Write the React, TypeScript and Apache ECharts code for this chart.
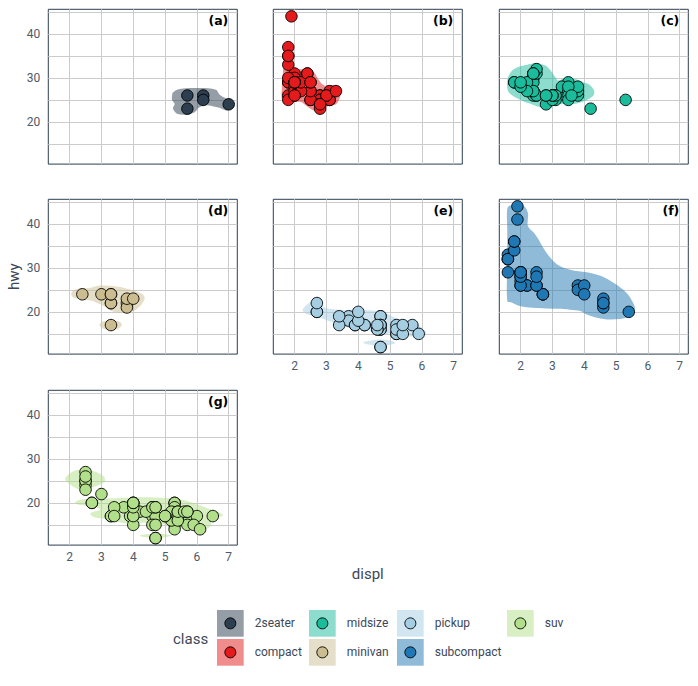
import React, { useEffect, useRef } from 'react';
import * as echarts from 'echarts';

const classes = ['2seater', 'compact', 'midsize', 'minivan', 'pickup', 'subcompact', 'suv'];
const panelLabels = ['(a)', '(b)', '(c)', '(d)', '(e)', '(f)', '(g)'];
const pointColors = ['#2c3e50', '#e41a1c', '#1abc9c', '#ccbd91', '#a6cee3', '#1f78b4', '#b2df8a'];
const xTicks = [2, 3, 4, 5, 6, 7];
const yTickLabels = [20, 30, 40];
const xRange = [1.33, 7.27];
const yRange = [10.4, 45.6];

// [displ, hwy]
const pts2seater = [[5.7, 26], [5.7, 23], [6.2, 26], [6.2, 25], [7.0, 24]];
const ptsCompact = [
  [1.8, 29], [1.8, 29], [2.0, 31], [2.0, 30], [2.8, 26], [2.8, 26], [3.1, 27],
  [1.8, 26], [1.8, 25], [2.0, 28], [2.0, 27], [2.8, 25], [2.8, 25], [3.1, 25], [3.1, 25],
  [2.5, 25], [2.5, 27], [2.5, 25], [2.5, 27],
  [2.2, 27], [2.2, 29], [2.4, 31], [2.4, 31], [3.0, 26], [3.0, 26], [3.3, 27],
  [1.8, 30], [1.8, 33], [1.8, 35], [1.8, 37], [1.8, 35],
  [2.0, 29], [2.0, 26], [2.0, 29], [2.0, 29], [2.8, 24],
  [1.9, 44], [2.0, 29], [2.0, 26], [2.0, 29], [2.0, 29], [2.5, 29], [2.5, 29], [2.8, 23], [2.8, 24],
];
const ptsMidsize = [
  [2.8, 24], [3.1, 25], [4.2, 23],
  [2.4, 27], [2.4, 30], [3.1, 26], [3.5, 29], [3.6, 26],
  [2.4, 26], [2.4, 27], [2.4, 30], [2.4, 31], [2.5, 26], [2.5, 26], [3.3, 28],
  [2.4, 29], [2.4, 27], [2.5, 31], [2.5, 32], [3.5, 27], [3.5, 26],
  [3.0, 26], [3.0, 25], [3.5, 25],
  [3.1, 26], [3.8, 26], [3.8, 27], [3.8, 28], [5.3, 25],
  [2.2, 29], [2.2, 27], [2.4, 31], [2.4, 31], [3.0, 26], [3.0, 26], [3.5, 28],
  [1.8, 29], [1.8, 29], [2.0, 28], [2.0, 29], [2.8, 26], [2.8, 26], [3.6, 26],
];
const ptsMinivan = [
  [2.4, 24], [3.0, 24], [3.3, 22], [3.3, 22], [3.3, 24], [3.3, 24], [3.3, 17],
  [3.8, 22], [3.8, 21], [3.8, 23], [4.0, 23],
];
const ptsPickup = [
  [3.7, 19], [3.7, 18], [3.9, 17], [3.9, 17], [4.7, 19], [4.7, 19], [4.7, 12], [5.2, 17], [5.2, 15],
  [4.7, 16], [4.7, 12], [4.7, 17], [4.7, 17], [4.7, 16], [5.2, 15], [5.2, 16], [5.7, 17], [5.9, 15], [4.7, 17],
  [4.2, 17], [4.2, 17], [4.6, 16], [4.6, 16], [4.6, 17], [5.4, 15], [5.4, 17],
  [2.7, 20], [2.7, 20], [2.7, 22], [3.4, 17], [3.4, 19], [4.0, 18], [4.0, 20],
];
const ptsSubcompact = [
  [3.8, 26], [3.8, 25], [4.0, 26], [4.0, 24], [4.6, 21], [4.6, 22], [4.6, 23], [4.6, 22], [5.4, 20],
  [1.6, 33], [1.6, 32], [1.6, 32], [1.6, 29], [1.6, 32], [1.8, 34], [1.8, 36], [1.8, 36], [2.0, 29],
  [2.0, 26], [2.0, 29], [2.0, 28], [2.0, 27], [2.7, 24], [2.7, 24], [2.7, 24],
  [2.2, 26], [2.2, 26], [2.5, 26], [2.5, 26],
  [1.9, 44], [1.9, 41], [2.0, 29], [2.0, 26], [2.0, 28], [2.0, 29], [2.5, 29], [2.5, 28],
];
const ptsSuv = [
  [5.3, 20], [5.3, 15], [5.3, 20], [5.7, 17], [6.0, 17],
  [5.3, 19], [5.3, 14], [5.7, 15], [6.5, 17],
  [3.9, 17], [4.7, 17], [4.7, 12], [4.7, 17], [5.2, 16], [5.2, 18], [5.9, 15],
  [4.6, 17], [5.4, 17], [5.4, 18],
  [4.0, 17], [4.0, 19], [4.0, 19], [4.0, 19], [4.6, 19], [5.0, 17],
  [3.0, 22], [3.7, 19], [4.0, 20], [4.7, 17], [4.7, 12], [4.7, 19], [5.7, 18], [6.1, 14],
  [4.0, 15], [4.2, 18], [4.4, 18], [4.6, 15],
  [5.4, 17], [5.4, 16], [5.4, 18],
  [4.0, 17], [4.0, 19], [4.6, 19], [5.0, 17],
  [3.3, 17], [3.3, 17], [4.0, 20], [5.6, 18],
  [2.5, 25], [2.5, 24], [2.5, 27], [2.5, 25], [2.5, 26], [2.5, 23],
  [2.7, 20], [2.7, 20], [3.4, 19], [3.4, 17], [4.0, 20], [4.7, 19],
  [4.7, 15], [5.7, 18],
];

// density-region outlines, [displ, hwy]
const hull2seater = [
  [[5.25, 26.7], [5.46, 27.5], [6.08, 27.7], [6.6, 27.3], [6.71, 26.2], [6.92, 25.3], [7.12, 24.8], [7.17, 23.9], [7.07, 23.0], [6.92, 22.6], [6.71, 23.2], [6.29, 23.8], [6.08, 23.3], [5.93, 22.2], [5.72, 21.7], [5.4, 21.8], [5.25, 23.0], [5.3, 24.1], [5.22, 25.0], [5.22, 26.0]],
];
const hullCompact = [
  [[1.83, 37.7], [1.95, 35.0], [2.0, 32.2], [2.35, 32.0], [2.6, 31.3], [2.77, 29.4], [2.93, 28.3], [3.3, 28.3], [3.42, 27.5], [3.44, 26.0], [3.3, 24.0], [3.08, 23.7], [2.82, 22.6], [2.6, 22.6], [2.35, 23.7], [2.2, 24.5], [1.94, 24.5], [1.63, 24.8], [1.6, 27.9], [1.63, 30.9], [1.65, 34.7], [1.68, 37.0]],
];
const hullMidsize = [
  [[1.58, 29.4], [1.6, 27.1], [1.74, 26.0], [2.05, 24.8], [2.31, 24.1], [2.68, 23.2], [2.99, 23.6], [3.15, 24.1], [3.46, 24.0], [3.72, 24.1], [4.03, 24.8], [4.29, 26.0], [4.31, 27.1], [4.19, 28.3], [3.98, 29.0], [3.67, 29.8], [3.35, 29.8], [3.17, 29.4], [3.09, 30.2], [2.94, 31.7], [2.78, 32.8], [2.52, 33.3], [2.21, 33.0], [1.9, 32.4], [1.69, 31.3]],
];
const hullMinivan = [
  [[2.05, 24.2], [2.18, 25.1], [2.65, 25.5], [2.96, 26.0], [3.48, 25.8], [3.9, 25.1], [4.26, 24.2], [4.36, 23.2], [4.26, 21.7], [4.0, 20.2], [3.58, 19.8], [3.32, 20.2], [3.17, 20.9], [2.75, 22.4], [2.44, 22.8], [2.13, 23.2]],
  [[2.94, 17.1], [3.05, 17.8], [3.3, 18.1], [3.55, 17.8], [3.64, 17.1], [3.55, 16.3], [3.3, 15.8], [3.05, 16.2]],
];
const hullPickup = [
  [[2.25, 20.4], [2.41, 21.8], [2.65, 22.6], [2.85, 21.5], [3.0, 20.8], [3.4, 20.5], [3.92, 20.4], [4.44, 20.3], [4.85, 19.8], [5.17, 18.6], [5.69, 17.9], [5.95, 16.7], [6.14, 15.1], [5.9, 14.5], [5.48, 14.5], [5.01, 15.1], [4.75, 14.8], [4.23, 16.0], [3.71, 16.4], [3.08, 17.9], [2.67, 19.0], [2.35, 19.6]],
  [[4.15, 13.0], [4.4, 13.5], [4.7, 13.7], [5.0, 13.5], [5.17, 12.9], [4.9, 12.4], [4.65, 12.2], [4.4, 12.5]],
];
const hullSubcompact = [
  [[1.58, 43.4], [1.67, 44.2], [2.1, 44.0], [2.23, 42.5], [2.23, 41.4], [2.23, 39.5], [2.42, 38.0], [2.57, 36.4], [2.68, 34.9], [2.89, 32.7], [3.15, 30.8], [3.56, 29.6], [4.08, 29.0], [4.55, 28.1], [4.92, 26.6], [5.33, 24.3], [5.54, 22.0], [5.59, 20.5], [5.44, 19.0], [5.13, 18.4], [4.6, 18.4], [4.08, 19.4], [3.88, 20.2], [3.56, 20.5], [3.15, 20.7], [2.52, 20.9], [2.0, 21.3], [1.69, 22.2], [1.58, 22.4], [1.58, 31.1], [1.58, 38.7]],
];
const hullSuv = [
  [[1.86, 25.3], [2.02, 26.8], [2.33, 27.6], [2.75, 27.2], [3.06, 26.1], [3.11, 24.9], [2.96, 24.2], [2.65, 23.4], [2.33, 23.0], [2.02, 24.2]],
  [[2.18, 20.2], [2.44, 20.8], [2.96, 20.9], [3.58, 21.1], [4.31, 21.3], [5.04, 21.1], [5.46, 20.8], [5.88, 20.0], [6.29, 18.9], [6.76, 17.6], [6.81, 17.0], [6.5, 16.6], [6.4, 14.5], [6.2, 14.0], [5.88, 14.1], [5.35, 14.7], [4.73, 15.3], [4.21, 15.5], [3.79, 15.3], [3.27, 16.2], [2.75, 16.8], [2.65, 17.6], [2.96, 18.5], [2.75, 19.2], [2.28, 19.6]],
  [[4.2, 12.5], [4.5, 12.9], [4.8, 13.0], [5.2, 12.6], [4.9, 12.1], [4.5, 12.1]],
];

const pointsByClass = [pts2seater, ptsCompact, ptsMidsize, ptsMinivan, ptsPickup, ptsSubcompact, ptsSuv];
const hullsByClass = [hull2seater, hullCompact, hullMidsize, hullMinivan, hullPickup, hullSubcompact, hullSuv];

const FONT = 'Roboto, "Noto Sans", sans-serif';
const TICK_COLOR = '#4d5a6a';
const TITLE_COLOR = '#3c4858';

function rgba(hex: string, a: number) {
  const n = parseInt(hex.slice(1), 16);
  return `rgba(${(n >> 16) & 255},${(n >> 8) & 255},${n & 255},${a})`;
}

const LEFTS = [48.3, 273.3, 499.3];
const TOPS = [9.3, 199.3, 390.3];
const PW = 189;
const PH = 154.8;

export default function App() {
  const ref = useRef<HTMLDivElement>(null);
  useEffect(() => {
    if (!ref.current) return;
    document.body.style.margin = '0';
    const chart = echarts.init(ref.current, undefined, { renderer: 'svg' });
    const grids: any[] = [];
    const xAxes: any[] = [];
    const yAxes: any[] = [];
    const series: any[] = [];
    const graphics: any[] = [];

    classes.forEach((cls, i) => {
      const col = i % 3;
      const row = Math.floor(i / 3);
      const left = LEFTS[col];
      const top = TOPS[row];
      grids.push({ left, top, width: PW, height: PH, show: true, borderColor: '#2c3e50', borderWidth: 1, backgroundColor: 'transparent', containLabel: false });
      const showX = i >= 4;
      const showY = col === 0;
      xAxes.push({
        gridIndex: i, type: 'value', min: xRange[0], max: xRange[1], minInterval: 1, maxInterval: 1,
        axisLine: { show: false }, axisTick: { show: false },
        splitLine: { show: true, showMinLine: false, showMaxLine: false, lineStyle: { color: '#cbcbcb', width: 1 } },
        axisLabel: {
          show: showX, color: TICK_COLOR, fontSize: 12, fontFamily: FONT, margin: 6,
          formatter: (v: number) => {
            const r = Math.round(v);
            return Math.abs(v - r) < 1e-6 && xTicks.includes(r) ? String(r) : '';
          },
        },
      });
      yAxes.push({
        gridIndex: i, type: 'value', min: yRange[0], max: yRange[1], minInterval: 5, maxInterval: 5,
        axisLine: { show: false }, axisTick: { show: false },
        splitLine: { show: true, showMinLine: false, showMaxLine: false, lineStyle: { color: '#cbcbcb', width: 1 } },
        axisLabel: {
          show: showY, color: TICK_COLOR, fontSize: 12, fontFamily: FONT, margin: 8,
          formatter: (v: number) => {
            const r = Math.round(v);
            return Math.abs(v - r) < 1e-6 && yTickLabels.includes(r) ? String(r) : '';
          },
        },
      });
      const hulls = hullsByClass[i];
      const fill = rgba(pointColors[i], 0.5);
      series.push({
        type: 'custom', xAxisIndex: i, yAxisIndex: i, clip: true, silent: true, z: 1,
        data: hulls.map((p, k) => [p[0][0], p[0][1], k]),
        renderItem: (_params: any, api: any) => {
          const poly = hulls[api.value(2)];
          const points = poly.map((p) => api.coord(p));
          return { type: 'polygon', shape: { points, smooth: 0.35 }, style: { fill } };
        },
      });
      series.push({
        type: 'scatter', xAxisIndex: i, yAxisIndex: i, silent: true, z: 3,
        symbol: 'circle', symbolSize: 11.5,
        itemStyle: { color: pointColors[i], borderColor: '#000', borderWidth: 0.9, opacity: 1 },
        data: pointsByClass[i],
      });
      graphics.push({
        type: 'text', x: left + PW - 9, y: top + 11,
        style: { text: panelLabels[i], fontSize: 12.5, fontWeight: 'bold', fontFamily: '"DejaVu Sans", sans-serif', fill: '#000', align: 'right', verticalAlign: 'middle' },
      });
    });

    graphics.push({
      type: 'text', x: 14, y: TOPS[1] + PH / 2, rotation: Math.PI / 2,
      style: { text: 'hwy', fontSize: 15, fontFamily: FONT, fill: TITLE_COLOR, align: 'center', verticalAlign: 'middle' },
    });
    graphics.push({
      type: 'text', x: LEFTS[1] + PW / 2, y: 574,
      style: { text: 'displ', fontSize: 15, fontFamily: FONT, fill: TITLE_COLOR, align: 'center', verticalAlign: 'middle' },
    });
    graphics.push({
      type: 'text', x: 173, y: 639,
      style: { text: 'class', fontSize: 15, fontFamily: FONT, fill: TITLE_COLOR, align: 'left', verticalAlign: 'middle' },
    });
    const keyX = [217, 309, 397, 507];
    const keyY = [610, 639];
    const KS = 26.7;
    classes.forEach((cls, i) => {
      const c = Math.floor(i / 2);
      const r = i % 2;
      const x = keyX[c];
      const y = keyY[r];
      graphics.push({ type: 'rect', shape: { x, y, width: KS, height: KS }, style: { fill: rgba(pointColors[i], 0.5) } });
      graphics.push({ type: 'circle', shape: { cx: x + KS / 2, cy: y + KS / 2, r: 5.5 }, style: { fill: pointColors[i], stroke: '#000', lineWidth: 0.9 } });
      graphics.push({
        type: 'text', x: x + KS + 11, y: y + KS / 2,
        style: { text: cls, fontSize: 12, fontFamily: FONT, fill: TITLE_COLOR, align: 'left', verticalAlign: 'middle' },
      });
    });

    chart.setOption({
      animation: false,
      grid: grids,
      xAxis: xAxes,
      yAxis: yAxes,
      series,
      graphic: graphics,
    });
    return () => chart.dispose();
  }, []);
  return <div ref={ref} style={{ position: 'absolute', left: 0, top: 0, width: 698, height: 686 }} />;
}
